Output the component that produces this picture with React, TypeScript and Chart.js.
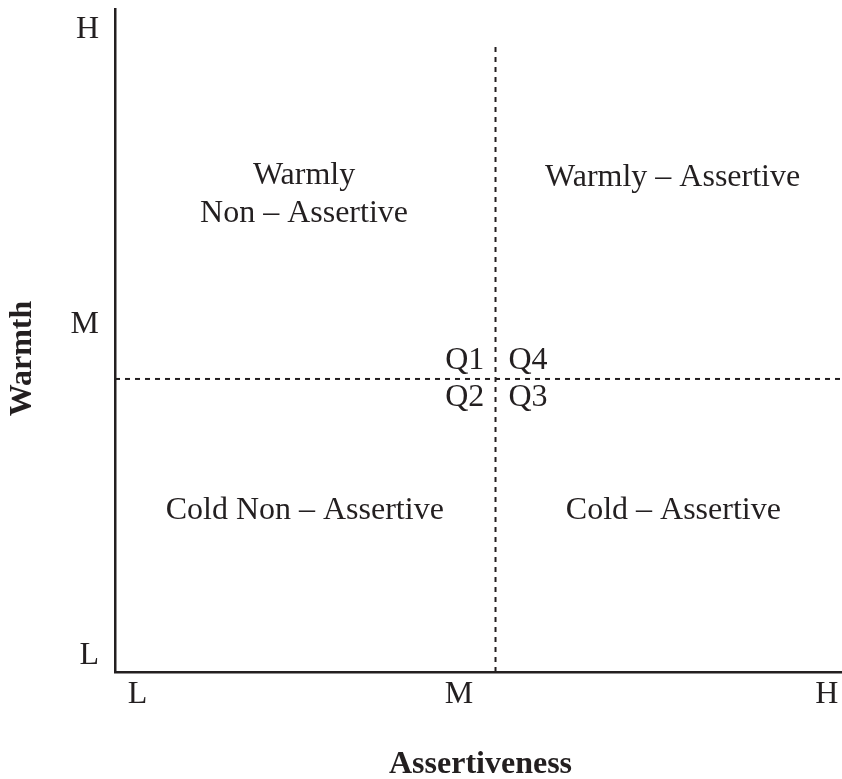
import React, { useEffect, useRef } from 'react';
import { Chart, registerables } from 'chart.js';

Chart.register(...registerables);

// ---- data ----
const xTickValues = [3.1, 47.3, 97.9];
const xTickLabels = ['L', 'M', 'H'];
const yTickValues = [2.4, 52.4, 96.9];
const yTickLabels = ['L', 'M', 'H'];
const xTitle = 'Assertiveness';
const yTitle = 'Warmth';
const verticalDivider = [
  { x: 52.34, y: 0 },
  { x: 52.34, y: 94.6 },
];
const horizontalDivider = [
  { x: 0, y: 44.2 },
  { x: 100, y: 44.2 },
];
const quadrantNames = [['Warmly', 'Non – Assertive'], ['Warmly – Assertive'], ['Cold Non – Assertive'], ['Cold – Assertive']];
const quadrantX = [26.0, 76.7, 26.1, 76.8];
const quadrantY = [72.0, 74.6, 24.4, 24.4];
const quadrantCodes = ['Q1', 'Q4', 'Q2', 'Q3'];
const codeX = [48.1, 56.8, 48.1, 56.8];
const codeY = [46.9, 46.9, 41.4, 41.4];

const INK = '#231f20';
const FAMILY = "'Liberation Serif', 'Times New Roman', serif";
const SIZE = 32;

const labelsPlugin = {
  id: 'quadrantLabels',
  afterDatasetsDraw(chart: any) {
    const { ctx, scales } = chart;
    const xs = scales.x;
    const ys = scales.y;
    ctx.save();
    ctx.fillStyle = INK;
    ctx.textAlign = 'center';
    ctx.textBaseline = 'middle';
    ctx.font = `${SIZE}px ${FAMILY}`;
    const lh = SIZE * 1.17;
    quadrantNames.forEach((lines, i) => {
      const cx = xs.getPixelForValue(quadrantX[i]);
      const cy = ys.getPixelForValue(quadrantY[i]);
      const start = cy - ((lines.length - 1) * lh) / 2;
      lines.forEach((t, j) => ctx.fillText(t, cx, start + j * lh));
    });
    quadrantCodes.forEach((t, i) => {
      ctx.fillText(t, xs.getPixelForValue(codeX[i]), ys.getPixelForValue(codeY[i]));
    });
    ctx.restore();
  },
  afterDraw(chart: any) {
    const { ctx, chartArea } = chart;
    ctx.save();
    ctx.fillStyle = INK;
    ctx.textAlign = 'center';
    ctx.textBaseline = 'middle';
    ctx.font = `bold ${SIZE}px ${FAMILY}`;
    ctx.fillText(xTitle, (chartArea.left + chartArea.right) / 2 + 2, chartArea.bottom + 93);
    ctx.translate(chartArea.left - 92, (chartArea.top + chartArea.bottom) / 2 + 18);
    ctx.rotate(-Math.PI / 2);
    ctx.fillText(yTitle, 0, 0);
    ctx.restore();
  },
};

export default function App() {
  const ref = useRef<HTMLCanvasElement>(null);
  useEffect(() => {
    document.body.style.margin = '0';
    const canvas = ref.current!;
    const chart = new Chart(canvas, {
      type: 'scatter',
      data: {
        datasets: [
          {
            data: verticalDivider,
            showLine: true,
            borderColor: INK,
            borderWidth: 2,
            borderDash: [5, 5],
            pointRadius: 0,
          },
          {
            data: horizontalDivider,
            showLine: true,
            borderColor: INK,
            borderWidth: 2,
            borderDash: [5, 5],
            pointRadius: 0,
          },
        ],
      },
      options: {
        responsive: false,
        animation: false,
        layout: { padding: { top: 9, right: 0, left: 0, bottom: 0 } },
        plugins: { legend: { display: false }, tooltip: { enabled: false } },
        scales: {
          x: {
            type: 'linear',
            min: 0,
            max: 100,
            afterFit(scale: any) {
              scale.height = 107;
              scale.paddingLeft = 0;
              scale.paddingRight = 0;
              scale.paddingTop = 0;
              scale.paddingBottom = 0;
            },
            afterBuildTicks(scale: any) {
              scale.ticks = xTickValues.map((v) => ({ value: v }));
            },
            ticks: {
              callback: (_v: any, i: number) => xTickLabels[i],
              font: { family: FAMILY, size: SIZE },
              color: INK,
              padding: 3,
              maxRotation: 0,
              autoSkip: false,
            },
            grid: { drawOnChartArea: false, drawTicks: false },
            border: { display: true, color: INK, width: 2.5 },
          },
          y: {
            type: 'linear',
            min: 0,
            max: 100,
            afterFit(scale: any) {
              scale.width = 115;
              scale.paddingLeft = 0;
              scale.paddingRight = 0;
              scale.paddingTop = 0;
              scale.paddingBottom = 0;
            },
            afterBuildTicks(scale: any) {
              scale.ticks = yTickValues.map((v) => ({ value: v }));
            },
            ticks: {
              callback: (_v: any, i: number) => yTickLabels[i],
              font: { family: FAMILY, size: SIZE },
              color: INK,
              padding: 16,
              autoSkip: false,
            },
            grid: { drawOnChartArea: false, drawTicks: false },
            border: { display: true, color: INK, width: 2.5 },
          },
        },
      },
      plugins: [labelsPlugin],
    });
    return () => chart.destroy();
  }, []);
  return <canvas ref={ref} width={842} height={779} style={{ display: 'block' }} />;
}
